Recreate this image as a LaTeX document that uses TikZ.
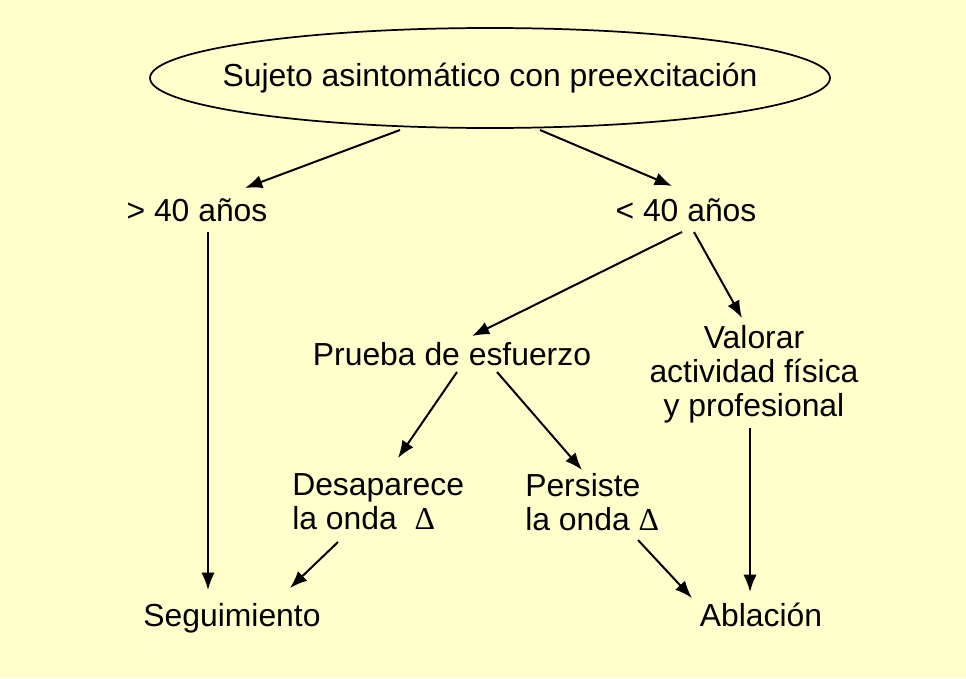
\documentclass[tikz,border=0pt]{standalone}
\usepackage{fontspec}
\setmainfont{Liberation Sans}
\newfontfamily\dfont{Liberation Serif}
\usetikzlibrary{arrows.meta,calc}
\definecolor{bgyel}{HTML}{FFFFCC}
\newcommand{\Dlt}{{\dfont Δ}}
\tikzset{
  lbl/.style={inner sep=0pt, font=\fontsize{23.9pt}{25.5pt}\selectfont},
  arr/.style={line width=1.5pt, -{Latex[length=13pt,width=10pt]}},
}
\begin{document}
\begin{tikzpicture}[x=0.75pt,y=-0.75pt]
\fill[bgyel] (0,0) rectangle (966,678);
\useasboundingbox (0,0) rectangle (966,678);

\node[lbl] (top) at (490,78) {Sujeto asintomático con preexcitación};
\draw[line width=1.3pt] (top.center) ellipse [x radius=340, y radius=50];
\node[lbl, anchor=base] (g40) at (197,221) {> 40 años};
\node[lbl, anchor=base] (l40) at (686,221) {< 40 años};
\node[lbl, anchor=base] (pr) at (452,365) {Prueba de esfuerzo};
\node[lbl, align=center] (val) at (754,374) {Valorar\\actividad física\\y profesional};
\node[lbl, align=left, anchor=west] (des) at (292,502) {Desaparece\\la onda \ \Dlt};
\node[lbl, align=left, anchor=west] (per) at (525,502) {Persiste\\la onda \Dlt};
\node[lbl, anchor=base] (seg) at (232,626) {Seguimiento};
\node[lbl, anchor=base] (abl) at (761,626) {Ablación};

\draw[arr] ($(top.center)+(-90,52)$) -- ($(g40.base)+(48,-33)$);
\draw[arr] ($(top.center)+(50,52)$) -- ($(l40.base)+(-14,-35)$);
\draw[arr] ($(g40.base)+(11,11)$) -- ($(seg.base)+(-24,-36)$);
\draw[arr] ($(l40.base)+(-4,11)$) -- ($(pr.base)+(20,-29)$);
\draw[arr] ($(l40.base)+(8,11)$) -- ($(val.center)+(-12,-56)$);
\draw[arr] ($(pr.base)+(5,7)$) -- ($(des.west)+(106,-44)$);
\draw[arr] ($(pr.base)+(45,7)$) -- ($(per.west)+(57,-32)$);
\draw[arr] ($(des.west)+(46,40)$) -- ($(seg.base)+(58,-38)$);
\draw[arr] ($(per.west)+(113,38)$) -- ($(abl.base)+(-69,-28)$);
\draw[arr] ($(val.center)+(-4,54)$) -- ($(abl.base)+(-11,-34)$);
\end{tikzpicture}
\end{document}
